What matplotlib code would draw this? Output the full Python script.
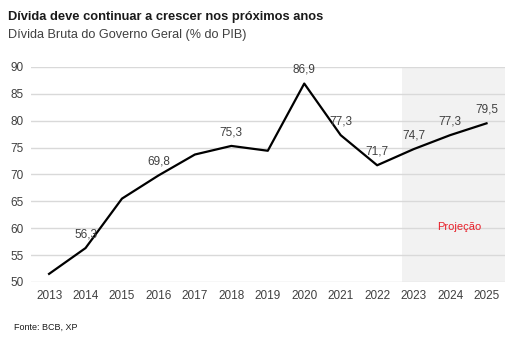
import matplotlib.pyplot as plt

plt.rcParams["font.family"] = ["Liberation Sans", "DejaVu Sans"]

years = [2013, 2014, 2015, 2016, 2017, 2018, 2019, 2020, 2021, 2022, 2023, 2024, 2025]
divida = [51.5, 56.3, 65.5, 69.8, 73.7, 75.3, 74.4, 86.9, 77.3, 71.7, 74.7, 77.3, 79.5]
# anos que recebem rótulo de valor
rotulados = [2014, 2016, 2018, 2020, 2021, 2022, 2023, 2024, 2025]
yticks = [50, 55, 60, 65, 70, 75, 80, 85, 90]

TXT = "#404040"
GRID = "#d9d9d9"

fig = plt.figure(figsize=(5.14, 3.43), dpi=100)
ax = fig.add_axes([0.060, 0.178, 0.922, 0.627])

x = list(range(len(years)))

# área da projeção
ax.axvspan(9.68, 12.5, color="#f2f2f2", zorder=0, lw=0)

ax.plot(x, divida, color="black", lw=1.6, zorder=3)

for i, (ano, v) in enumerate(zip(years, divida)):
    if ano in rotulados:
        ax.annotate(f"{v:.1f}".replace(".", ","), (i, v), xytext=(0, 10),
                    textcoords="offset points", ha="center", va="center",
                    fontsize=8.5, color=TXT, zorder=4)

ax.text(11.25, 60.2, "Projeção", color="#e8202a", fontsize=8,
        ha="center", va="center")

ax.set_xlim(-0.5, 12.5)
ax.set_ylim(50, 90)
ax.set_xticks(x)
ax.set_xticklabels([str(a) for a in years])
ax.set_yticks(yticks)
ax.tick_params(length=0, labelsize=8.5, labelcolor=TXT)
ax.tick_params(axis="x", pad=6)
ax.tick_params(axis="y", pad=5)
for s in ax.spines.values():
    s.set_visible(False)
ax.grid(axis="y", color=GRID, lw=1)
ax.set_axisbelow(True)

fig.text(0.016, 0.950, "Dívida deve continuar a crescer nos próximos anos",
         fontsize=9.3, fontweight="bold", color="#1a1a1a", va="center")
fig.text(0.016, 0.898, "Dívida Bruta do Governo Geral (% do PIB)",
         fontsize=9.1, color=TXT, va="center")
fig.text(0.027, 0.047, "Fonte: BCB, XP", fontsize=6.5, color="#1a1a1a", va="center")

fig.savefig("out.png", dpi=100)
